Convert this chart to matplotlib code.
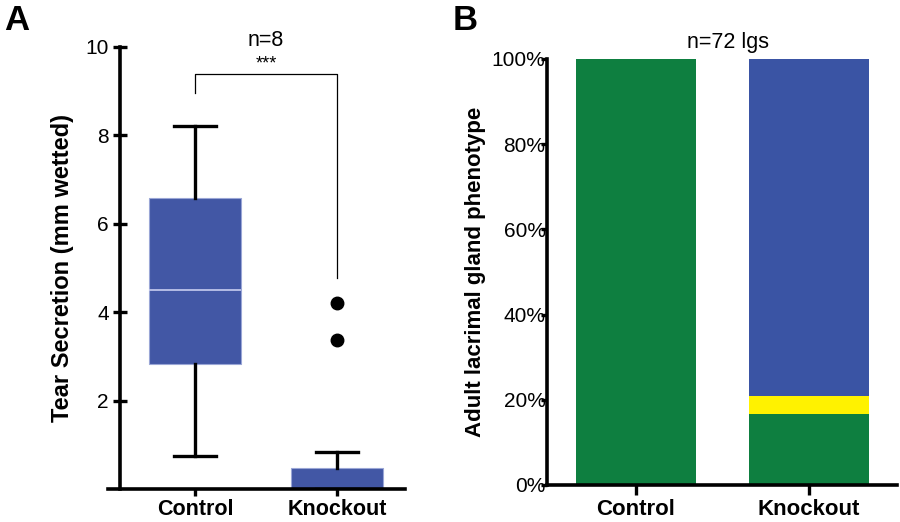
import matplotlib
matplotlib.use("Agg")
import matplotlib.pyplot as plt

plt.rcParams['font.family'] = ['Liberation Sans', 'DejaVu Sans']

# panel A: tear secretion box plot (mm wetted)
groups = ["Control", "Knockout"]
q1 = [2.82, 0.0]
med = [4.5, 0.0]
q3 = [6.58, 0.47]
whis_lo = [0.74, 0.0]
whis_hi = [8.22, 0.84]
fliers = [[], [3.36, 4.2]]

# panel B: phenotype fractions (%)
pheno_green = [100.0, 16.7]
pheno_yellow = [0.0, 4.2]
pheno_blue = [0.0, 79.1]

box_blue = "#4257a5"
bar_blue = "#3a54a4"
green = "#0e7f40"
yellow = "#fff200"

fig = plt.figure(figsize=(9, 5.22), dpi=100)

# ---- panel A ----
axA = fig.add_axes([108 / 900, 33 / 522, 297 / 900, 442 / 522])
stats = []
for i in range(2):
    stats.append(dict(label=groups[i], q1=q1[i], med=med[i], q3=q3[i],
                      whislo=whis_lo[i], whishi=whis_hi[i], fliers=fliers[i]))
pos = [0, 1]
axA.bxp(stats, positions=pos, widths=0.65, capwidths=0.3, patch_artist=True,
        boxprops=dict(facecolor=box_blue, edgecolor="#9aa6d6", linewidth=0.8),
        medianprops=dict(color="#c8cdf0", linewidth=1.2),
        whiskerprops=dict(color="black", linewidth=2.4),
        capprops=dict(color="black", linewidth=2.4),
        flierprops=dict(marker="o", markerfacecolor="black", markeredgecolor="black",
                        markersize=9))
axA.set_xlim(-0.613, 1.479)
axA.set_ylim(0, 10)
axA.spines['left'].set_position(('data', -0.528))
for s in ['top', 'right']:
    axA.spines[s].set_visible(False)
for s in ['left', 'bottom']:
    axA.spines[s].set_linewidth(2.6)
axA.set_yticks([2, 4, 6, 8, 10])
axA.set_xticks(pos)
axA.set_xticklabels(groups, fontsize=15.5, fontweight="bold")
axA.tick_params(axis='y', direction='inout', length=10, width=2.4, labelsize=15, pad=3)
axA.tick_params(axis='x', direction='out', length=5, width=2.4, pad=2)
axA.set_ylabel("Tear Secretion (mm wetted)", fontsize=17, fontweight="bold", labelpad=8)
axA.plot([0, 0, 1, 1], [8.97, 9.38, 9.38, 4.77], color="black", linewidth=0.9, clip_on=False)
axA.text(0.5, 9.42, "***", ha="center", va="bottom", fontsize=13)
axA.text(0.5, 9.9, "n=8", ha="center", va="bottom", fontsize=15.5)

# ---- panel B ----
axB = fig.add_axes([547 / 900, 37 / 522, 350 / 900, 426 / 522])
xb = [0, 1]
bw = 0.694
axB.bar(xb, pheno_green, width=bw, color=green)
axB.bar(xb, pheno_yellow, width=bw, bottom=pheno_green, color=yellow)
bot2 = [g + y for g, y in zip(pheno_green, pheno_yellow)]
axB.bar(xb, pheno_blue, width=bw, bottom=bot2, color=bar_blue)
axB.set_xlim(-0.514, 1.509)
axB.set_ylim(0, 100)
for s in ['top', 'right']:
    axB.spines[s].set_visible(False)
for s in ['left', 'bottom']:
    axB.spines[s].set_linewidth(2.6)
axB.set_yticks([0, 20, 40, 60, 80, 100])
axB.set_yticklabels(["0%", "20%", "40%", "60%", "80%", "100%"])
axB.set_xticks(xb)
axB.set_xticklabels(groups, fontsize=16, fontweight="bold")
axB.tick_params(axis='y', direction='out', length=4, width=2.4, labelsize=15, pad=-3)
axB.tick_params(axis='x', direction='out', length=7, width=2.4, pad=3)
axB.set_ylabel("Adult lacrimal gland phenotype", fontsize=16, fontweight="bold", labelpad=4)
axB.text(0.53, 101.5, "n=72 lgs", ha="center", va="bottom", fontsize=15.5)

fig.text(4 / 900, 1 - 20 / 522, "A", fontsize=25, fontweight="bold", va="center", ha="left")
fig.text(453 / 900, 1 - 20 / 522, "B", fontsize=25, fontweight="bold", va="center", ha="left")

fig.savefig("out.png", dpi=100)
